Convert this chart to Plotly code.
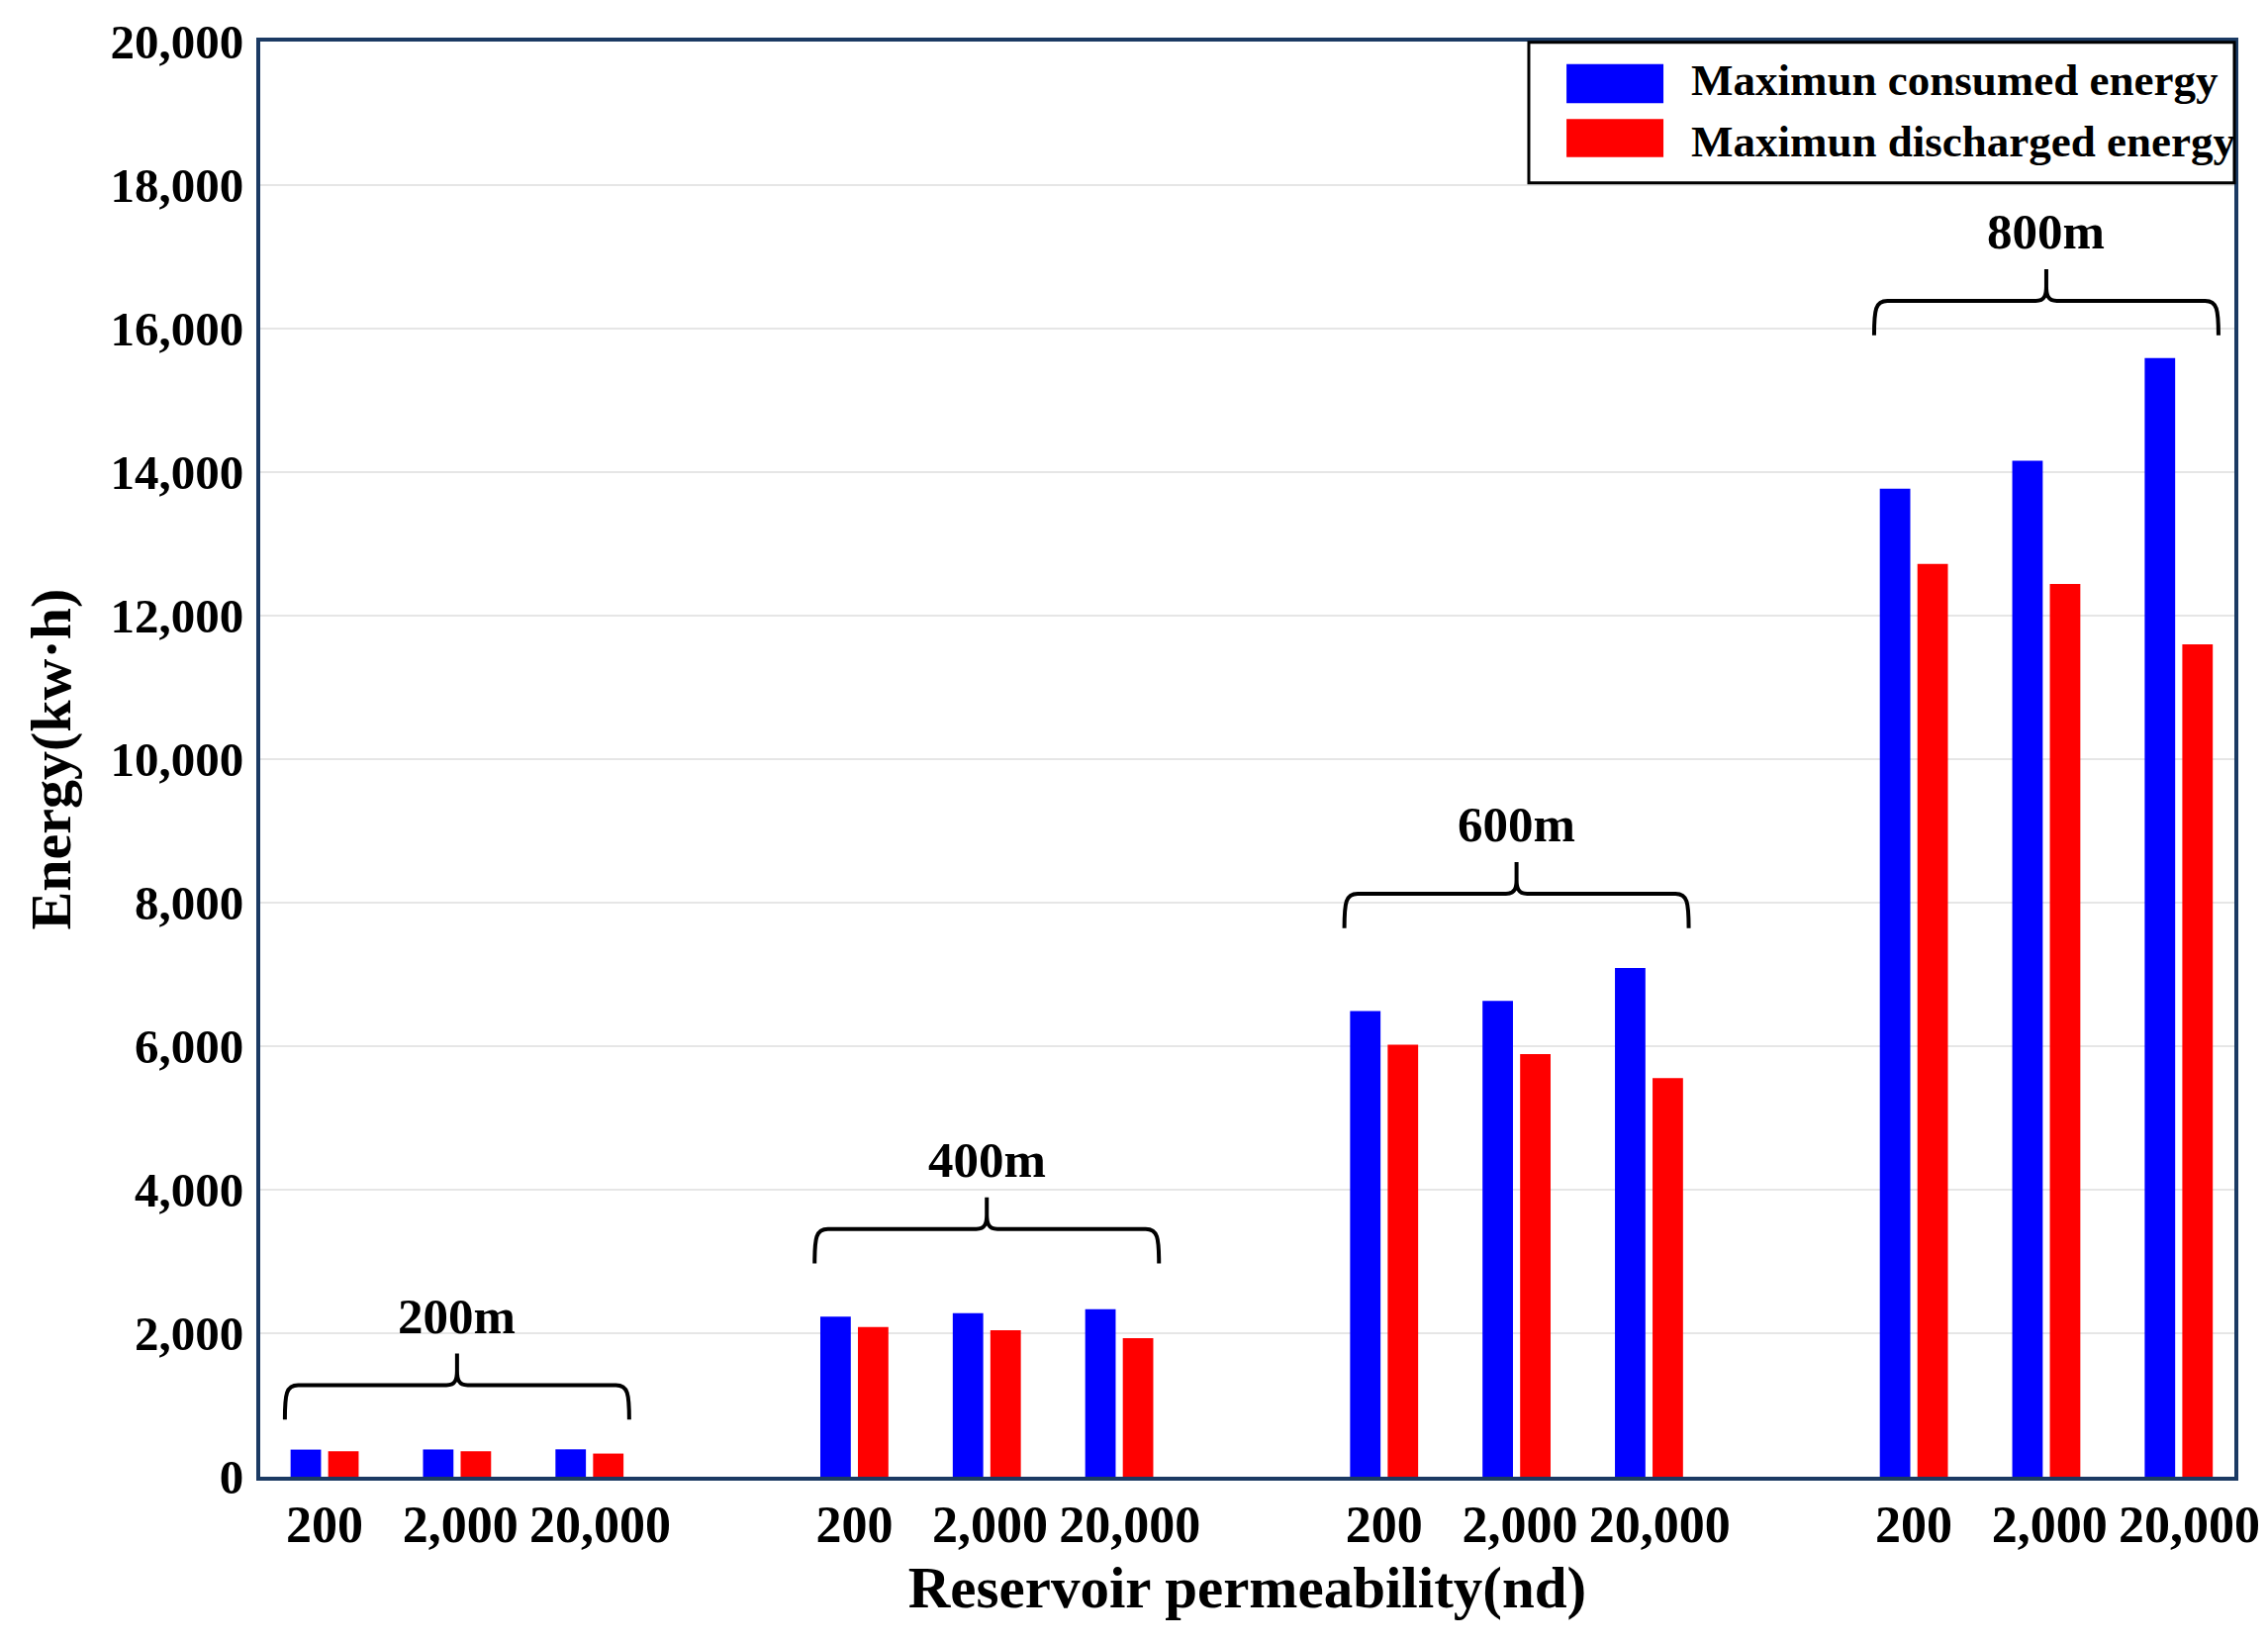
import plotly.graph_objects as go

# ---------------- data ----------------
depth_labels = ["200m", "400m", "600m", "800m"]
perm_labels = ["200", "2,000", "20,000"]
consumed_energy = [378, 380, 382,
                   2231, 2280, 2335,
                   6490, 6630, 7090,
                   13770, 14160, 15590]
discharged_energy = [355, 355, 323,
                     2085, 2040, 1930,
                     6020, 5890, 5555,
                     12720, 12440, 11600]
series_names = ["Maximun consumed energy", "Maximun discharged energy"]
y_ticks = list(range(0, 20001, 2000))

# ---------------- layout constants ----------------
W, H = 2276, 1645   # page body adds an 8px margin around the figure
FONT = "Liberation Serif, Times New Roman, serif"
AXIS_COLOR = "#1b3a63"
BLUE, RED = "#0000ff", "#ff0000"
brace_levels = [1277, 3453, 8124, 16387]   # y of brace horizontal stroke (annotation placement)
tick_nudge = [0.0, 0.025, 0.08]            # small horizontal nudge of tick labels within a group

n_perm = len(perm_labels)
slots = [g * (n_perm + 1) + i for g in range(len(depth_labels)) for i in range(n_perm)]
tick_pos = [g * (n_perm + 1) + i + tick_nudge[i] for g in range(len(depth_labels)) for i in range(n_perm)]
tick_text = [perm_labels[i] for g in range(len(depth_labels)) for i in range(n_perm)]

fig = go.Figure()
fig.add_trace(go.Bar(x=slots, y=consumed_energy, name=series_names[0],
                     width=0.23, offset=-0.257, marker=dict(color=BLUE, line=dict(width=0)),
                     showlegend=False))
fig.add_trace(go.Bar(x=slots, y=discharged_energy, name=series_names[1],
                     width=0.23, offset=0.027, marker=dict(color=RED, line=dict(width=0)),
                     showlegend=False))


def brace_path(xc, half, yh):
    x0, x1 = xc - half, xc + half
    yb = yh - 480
    yp = yh + 440
    dy = yp - yh
    p = (f"M {x0},{yb} C {x0},{yb + 0.75 * (yh - yb)} {x0 + 0.01},{yh} {x0 + 0.1},{yh} "
         f"L {xc - 0.08},{yh} C {xc - 0.01},{yh} {xc},{yh + 0.2 * dy} {xc},{yh + 0.45 * dy} "
         f"L {xc},{yp} L {xc},{yh + 0.45 * dy} "
         f"C {xc},{yh + 0.2 * dy} {xc + 0.01},{yh} {xc + 0.08},{yh} "
         f"L {x1 - 0.1},{yh} C {x1 - 0.01},{yh} {x1},{yb + 0.75 * (yh - yb)} {x1},{yb}")
    return p


shapes = []
annotations = []
for g, lab in enumerate(depth_labels):
    xc = g * (n_perm + 1) + (n_perm - 1) / 2
    yh = brace_levels[g]
    shapes.append(dict(type="path", xref="x", yref="y", path=brace_path(xc, 1.3, yh),
                       line=dict(color="black", width=4)))
    annotations.append(dict(x=xc, y=yh + 960, xref="x", yref="y", text=lab, showarrow=False,
                            xanchor="center", yanchor="middle",
                            font=dict(family=FONT, size=51, color="black", weight="bold")))

# custom legend (large swatches)
shapes.append(dict(type="rect", xref="paper", yref="paper", x0=0.6426, x1=1.0, y0=0.9016, y1=0.9995,
                   line=dict(color="black", width=3), fillcolor="white", layer="above"))
legend_rows = [(BLUE, 0.9570, 0.9843, 0.9734), (RED, 0.9194, 0.9460, 0.9303)]
for (col, y0, y1, yt), name in zip(legend_rows, series_names):
    shapes.append(dict(type="rect", xref="paper", yref="paper", x0=0.6617, x1=0.7108, y0=y0, y1=y1,
                       line=dict(width=0), fillcolor=col, layer="above"))
    annotations.append(dict(x=0.7238, y=yt, xref="paper", yref="paper", text=name, showarrow=False,
                            xanchor="left", yanchor="middle",
                            font=dict(family=FONT, size=45, color="black", weight="bold")))

fig.update_layout(
    width=W, height=H,
    margin=dict(l=255, r=26, t=34, b=161, autoexpand=False),
    paper_bgcolor="white", plot_bgcolor="white",
    shapes=shapes, annotations=annotations,
    font=dict(family=FONT, color="black", weight="bold"),
    xaxis=dict(range=[-0.486, 14.42], tickvals=tick_pos, ticktext=tick_text, tickangle=0,
               automargin=False, ticklabeloverflow="allow",
               showgrid=False, zeroline=False, showline=True, mirror=True,
               linecolor=AXIS_COLOR, linewidth=4, ticks="", ticklabelstandoff=0,
               tickfont=dict(family=FONT, size=52, color="black", weight="bold"),
               title=dict(text="Reservoir permeability(nd)", standoff=15,
                          font=dict(family=FONT, size=59, color="black", weight="bold"))),
    yaxis=dict(range=[0, 20000], tickvals=y_ticks, tickformat=",", showgrid=True,
               automargin=False, ticklabeloverflow="allow",
               gridcolor="#e6e6e6", gridwidth=2, zeroline=False, showline=True, mirror=True,
               linecolor=AXIS_COLOR, linewidth=4, ticks="", ticklabelstandoff=3,
               tickfont=dict(family=FONT, size=49, color="black", weight="bold"),
               title=dict(text="Energy(kw·h)", standoff=22,
                          font=dict(family=FONT, size=58, color="black", weight="bold"))),
)

fig.write_html("out.html")
